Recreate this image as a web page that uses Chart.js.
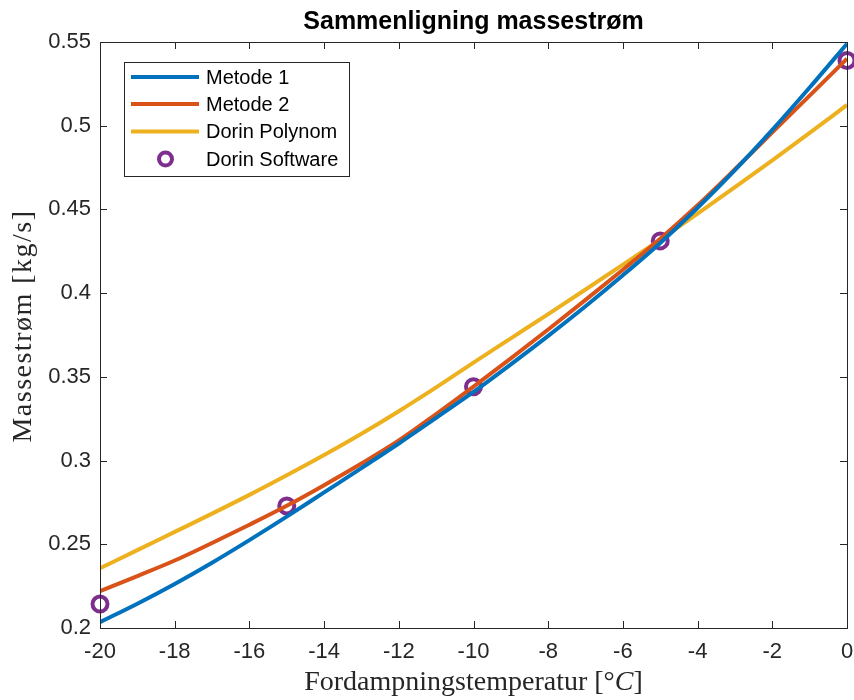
<!DOCTYPE html>
<html>
<head>
<meta charset="utf-8">
<title>Sammenligning massestrøm</title>
<script src="https://cdn.jsdelivr.net/npm/chart.js@4.4.1/dist/chart.umd.min.js"></script>
<style>
    html, body { margin: 0; padding: 0; background: #ffffff; }
    #wrap { width: 854px; height: 700px; }
</style>
</head>
<body>
<div id="wrap"><canvas id="massChart" width="854" height="700"></canvas></div>
<script>
// evaporation temperature [°C] and mass flow [kg/s]
const temps = [-20, -19, -18, -17, -16, -15, -14, -13, -12, -11, -10, -9, -8, -7, -6, -5, -4, -3, -2, -1, 0];
const metode1 = [0.2035, 0.2145, 0.2263, 0.2390, 0.2525, 0.2665, 0.2810, 0.2955, 0.3102, 0.3255, 0.3410,
                 0.3575, 0.3745, 0.3922, 0.4107, 0.4300, 0.4510, 0.4735, 0.4975, 0.5228, 0.5490];
const metode2 = [0.2220, 0.2310, 0.2403, 0.2508, 0.2617, 0.2730, 0.2853, 0.2982, 0.3120, 0.3278, 0.3442,
                 0.3610, 0.3783, 0.3960, 0.4140, 0.4325, 0.4525, 0.4740, 0.4960, 0.5180, 0.5400];
const dorinPolynom = [0.2357, 0.2465, 0.2574, 0.2683, 0.2795, 0.2912, 0.3033, 0.3160, 0.3295, 0.3437, 0.3585,
                      0.3730, 0.3875, 0.4022, 0.4170, 0.4320, 0.4475, 0.4633, 0.4793, 0.4957, 0.5124];
const softwareTemps = [-20, -15, -10, -5, 0];
const dorinSoftware = [0.2143, 0.2729, 0.3441, 0.4312, 0.5390];

const xTicks = [-20, -18, -16, -14, -12, -10, -8, -6, -4, -2, 0];
const yTicks = [0.2, 0.25, 0.3, 0.35, 0.4, 0.45, 0.5, 0.55];

const titleText = 'Sammenligning massestrøm';
const yTitle = 'Massestrøm [kg/s]';
const xTitleParts = ['Fordampningstemperatur [°', 'C', ']'];

const axisColor = '#262626';
const sansFont = '"Liberation Sans", Arial, Helvetica, sans-serif';
const serifFont = '"Liberation Serif", "Times New Roman", serif';

const toPoints = (xs, ys) => xs.map((x, i) => ({ x: x, y: ys[i] }));

// keep the plot box at a fixed place, whatever the tick label widths
const pinScale = size => s => {
    if (s.isHorizontal()) s.height = size; else s.width = size;
    s.paddingLeft = s.paddingRight = s.paddingTop = s.paddingBottom = 0;
};

// box, inward ticks on all sides, titles and legend
const matlabAxes = {
    id: 'matlabAxes',
    afterDatasetsDraw(chart) {
        const { ctx, chartArea: a, scales: { x, y } } = chart;
        const tick = 7;
        ctx.save();

        ctx.strokeStyle = axisColor;
        ctx.lineWidth = 1;
        ctx.beginPath();
        xTicks.forEach(v => {
            const px = Math.round(x.getPixelForValue(v)) + 0.5;
            ctx.moveTo(px, a.bottom); ctx.lineTo(px, a.bottom - tick);
            ctx.moveTo(px, a.top); ctx.lineTo(px, a.top + tick);
        });
        yTicks.forEach(v => {
            const py = Math.round(y.getPixelForValue(v)) + 0.5;
            ctx.moveTo(a.left, py); ctx.lineTo(a.left + tick, py);
            ctx.moveTo(a.right, py); ctx.lineTo(a.right - tick, py);
        });
        ctx.stroke();
        ctx.strokeRect(Math.round(a.left) + 0.5, Math.round(a.top) + 0.5,
                       Math.round(a.right - a.left), Math.round(a.bottom - a.top));

        // legend
        const lx = 124, ly = 62, lw = 225, lh = 114;
        ctx.fillStyle = '#ffffff';
        ctx.fillRect(lx, ly, lw, lh);
        ctx.strokeRect(lx + 0.5, ly + 0.5, lw, lh);
        const rows = [77, 104, 131.5, 159];
        ctx.font = '20px ' + sansFont;
        ctx.textBaseline = 'middle';
        ctx.textAlign = 'left';
        chart.data.datasets.forEach((ds, i) => {
            const ry = rows[i];
            if (ds.showLine === false) {
                ctx.beginPath();
                ctx.lineWidth = ds.pointBorderWidth;
                ctx.strokeStyle = ds.pointBorderColor;
                ctx.arc(165.5, ry, ds.pointRadius - 1, 0, Math.PI * 2);
                ctx.stroke();
            } else {
                ctx.beginPath();
                ctx.lineWidth = ds.borderWidth;
                ctx.strokeStyle = ds.borderColor;
                ctx.moveTo(131, ry);
                ctx.lineTo(199, ry);
                ctx.stroke();
            }
            ctx.fillStyle = '#000000';
            ctx.fillText(ds.label, 206, ry + 1);
        });

        ctx.restore();
    },
    afterDraw(chart) {
        const { ctx, chartArea: a } = chart;
        const cx = (a.left + a.right) / 2;
        ctx.save();
        ctx.fillStyle = '#000000';
        ctx.textAlign = 'center';
        ctx.textBaseline = 'alphabetic';
        ctx.font = 'bold 25px ' + sansFont;
        ctx.fillText(titleText, cx, 29);

        // x title, with the unit symbol in italics
        ctx.fillStyle = axisColor;
        const fonts = ['28px ' + serifFont, 'italic 28px ' + serifFont, '28px ' + serifFont];
        const widths = xTitleParts.map((t, i) => { ctx.font = fonts[i]; return ctx.measureText(t).width; });
        let px = cx - widths.reduce((s, w) => s + w, 0) / 2;
        ctx.textAlign = 'left';
        xTitleParts.forEach((t, i) => {
            ctx.font = fonts[i];
            ctx.fillText(t, px, 690);
            px += widths[i];
        });

        // y title
        ctx.translate(31, 326);
        ctx.rotate(-Math.PI / 2);
        ctx.textAlign = 'center';
        ctx.font = '28px ' + serifFont;
        ctx.letterSpacing = '1.5px';
        ctx.fillText(yTitle, 0, 0);
        ctx.restore();
    }
};

new Chart(document.getElementById('massChart'), {
    type: 'line',
    data: {
        datasets: [
            {
                label: 'Metode 1',
                data: toPoints(temps, metode1),
                borderColor: '#0072BD',
                borderWidth: 4,
                pointRadius: 0,
                cubicInterpolationMode: 'monotone'
            },
            {
                label: 'Metode 2',
                data: toPoints(temps, metode2),
                borderColor: '#D95319',
                borderWidth: 4,
                pointRadius: 0,
                cubicInterpolationMode: 'monotone'
            },
            {
                label: 'Dorin Polynom',
                data: toPoints(temps, dorinPolynom),
                borderColor: '#EDB120',
                borderWidth: 4,
                pointRadius: 0,
                cubicInterpolationMode: 'monotone'
            },
            {
                label: 'Dorin Software',
                data: toPoints(softwareTemps, dorinSoftware),
                showLine: false,
                pointStyle: 'circle',
                pointRadius: 7.5,
                pointBorderWidth: 4,
                pointBorderColor: '#7E2F8E',
                pointBackgroundColor: 'rgba(0,0,0,0)',
                clip: false
            }
        ]
    },
    options: {
        responsive: false,
        animation: false,
        devicePixelRatio: 1,
        layout: { autoPadding: false, padding: { top: 42, right: 7, left: 0, bottom: 0 } },
        plugins: {
            legend: { display: false },
            tooltip: { enabled: false },
            title: { display: false }
        },
        scales: {
            x: {
                type: 'linear',
                min: -20,
                max: 0,
                grid: { display: false, drawTicks: false },
                border: { display: false },
                afterBuildTicks: s => { s.ticks = xTicks.map(v => ({ value: v })); },
                afterFit: pinScale(72),
                ticks: {
                    color: axisColor,
                    font: { family: sansFont, size: 22 },
                    padding: 11,
                    maxRotation: 0,
                    callback: v => String(v)
                }
            },
            y: {
                type: 'linear',
                min: 0.2,
                max: 0.55,
                grid: { display: false, drawTicks: false },
                border: { display: false },
                afterBuildTicks: s => { s.ticks = yTicks.map(v => ({ value: v })); },
                afterFit: pinScale(100),
                ticks: {
                    color: axisColor,
                    font: { family: sansFont, size: 22 },
                    padding: 9,
                    callback: v => String(v)
                }
            }
        }
    },
    plugins: [matlabAxes]
});
</script>
</body>
</html>
